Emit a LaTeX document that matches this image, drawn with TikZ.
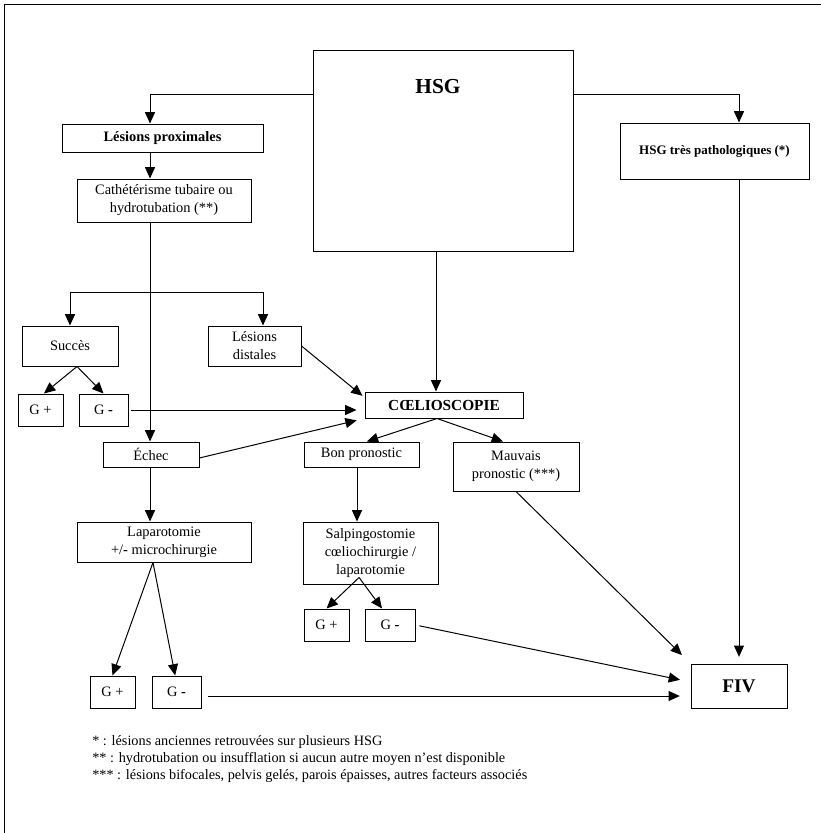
\documentclass[tikz,border=0pt]{standalone}
\usepackage{fontspec}
\setmainfont{Liberation Serif}
\usetikzlibrary{arrows.meta}

\begin{document}
\begin{tikzpicture}[x=0.75pt,y=-0.75pt,
  boite/.style={draw,line width=0.75pt,inner sep=0pt,align=center,
    font=\fontsize{10.8}{13.5}\selectfont},
  boitegras/.style={boite,font=\fontsize{10.8}{13.5}\selectfont\bfseries},
  taille/.style 2 args={minimum width=#1*0.75pt,minimum height=#2*0.75pt},
  fleche/.style={-{Triangle[length=8.5pt,width=7.5pt]},line width=0.75pt}
]
  \useasboundingbox (0,0) rectangle (821,833);

  % Cadre
  \draw[line width=1.2pt] (4.5,833) -- (4.5,4.5) -- (821,4.5);

  % Colonnes des traits verticaux
  \coordinate (colg) at (150,0);
  \coordinate (colc) at (436,0);
  \coordinate (colb) at (357,0);
  \coordinate (fourche) at (263,292);

  % Boites
  \node[boite,taille={260}{201},
    label={[font=\fontsize{16}{16}\selectfont\bfseries,anchor=center,
      xshift=-3.75pt,yshift=-27.75pt]north:HSG}] (hsg) at (443,150.5) {};
  \node[boitegras,taille={201}{28}] (lprox) at (162.5,138) {Lésions proximales};
  \node[boite,taille={174}{43}] (cath) at (164,200.5) {Cathétérisme tubaire ou\\hydrotubation (**)};
  \node[boitegras,taille={189}{56},font=\fontsize{9.75}{12}\selectfont\bfseries] (tres) at (714.5,151)
    {HSG très pathologiques (*)};
  \node[boite,taille={96}{40}] (succes) at (70,346) {Succès};
  \node[boite,taille={93}{40}] (ldist) at (254.5,346) {Lésions\\distales};
  \node[boite,taille={45}{32}] (gpa) at (40.5,410) {G +};
  \node[boite,taille={49}{32}] (gma) at (103.5,410) {G \textbf{-}};
  \node[boitegras,taille={158}{26},font=\fontsize{11.5}{13}\selectfont\bfseries] (coelio) at (444,405)
    {CŒLIOSCOPIE};
  \node[boite,taille={96}{25}] (echec) at (151,454.5) {Échec};
  \node[boite,taille={115}{25}] (bon) at (361.5,454.5) {Bon pronostic};
  \node[boite,taille={126}{49}] (mauv) at (516,466.5) {Mauvais\\pronostic (***)};
  \node[boite,taille={174}{40}] (lapa) at (164,542) {Laparotomie\\+/\textbf{-} microchirurgie};
  \node[boite,taille={135}{62}] (salp) at (370.5,553) {Salpingostomie\\cœliochirurgie /\\laparotomie};
  \node[boite,taille={45}{32}] (gpb) at (326.5,625) {G +};
  \node[boite,taille={50}{32}] (gmb) at (390,625) {G \textbf{-}};
  \node[boite,taille={45}{32}] (gpc) at (112.5,692) {G +};
  \node[boite,taille={49}{32}] (gmc) at (176.5,692) {G \textbf{-}};
  \node[boitegras,taille={96}{44},font=\fontsize{14.5}{16}\selectfont\bfseries] (fiv) at (739,686) {FIV};

  % Depuis HSG
  \draw[fleche] ([yshift=-33.75pt]hsg.north west) -| (lprox.north -| colg);
  \draw[fleche] ([yshift=-33.75pt]hsg.north east) -| (tres.north -| fiv.north);
  \draw[fleche] (hsg.south -| colc) -- (coelio.north -| colc);

  % Branche gauche
  \draw[fleche] (lprox.south -| colg) -- (cath.north -| colg);
  \draw[fleche] (cath.south -| colg) -- (echec.north -| colg);
  \draw[fleche] (fourche) -| (succes.north);
  \draw[fleche] (fourche) -- (ldist.north -| fourche);
  \draw[fleche] ([xshift=5.25pt]succes.south) -- ([xshift=2.6pt]gpa.north);
  \draw[fleche] ([xshift=5.25pt]succes.south) -- (gma.north);
  \draw[fleche] (echec.south -| colg) -- (lapa.north -| colg);
  \draw[fleche] ([xshift=-8.25pt]lapa.south) -- (gpc.north);
  \draw[fleche] ([xshift=-8.25pt]lapa.south) -- ([xshift=-1pt]gmc.north);

  % Vers la coelioscopie
  \draw[fleche,shorten <=1.5pt,shorten >=6pt] (gma.east) -- (gma.east -| coelio.west);
  \draw[fleche,shorten >=2pt] (ldist.east) -- ([yshift=-4.5pt]coelio.north west);
  \draw[fleche,shorten >=6pt] ([yshift=-2.6pt]echec.east) -- (coelio.south west);

  % Apres la coelioscopie
  \draw[fleche] ([xshift=-5.25pt]coelio.south) -- ([xshift=4pt]bon.north);
  \draw[fleche] ([xshift=-5.25pt]coelio.south) -- ([xshift=-9.75pt]mauv.north);
  \draw[fleche] (bon.south -| colb) -- (salp.north -| colb);
  \draw[fleche] ([xshift=-8.6pt,yshift=5.25pt]salp.south) -- (gpb.north);
  \draw[fleche] ([xshift=-8.6pt,yshift=5.25pt]salp.south) -- ([xshift=-6pt]gmb.north);

  % Vers la FIV
  \draw[fleche,shorten >=5pt] (tres.south -| fiv.north) -- (fiv.north);
  \draw[fleche,shorten >=9pt] (mauv.south) -- (fiv.north west);
  \draw[fleche,shorten <=3pt,shorten >=8pt] (gmb.east) -- ([yshift=3pt]fiv.west);
  \draw[fleche,shorten <=5pt,shorten >=8pt] ([yshift=-3pt]gmc.east) -- ([yshift=-3pt]gmc.east -| fiv.west);

  % Notes
  \node[anchor=north west,inner sep=0pt,align=left,font=\fontsize{10.7}{12.75}\selectfont] (notes) at (92,735)
    {* : lésions anciennes retrouvées sur plusieurs HSG\\
     ** : hydrotubation ou insufflation si aucun autre moyen n’est disponible\\
     *** : lésions bifocales, pelvis gelés, parois épaisses, autres facteurs associés};
\end{tikzpicture}
\end{document}
